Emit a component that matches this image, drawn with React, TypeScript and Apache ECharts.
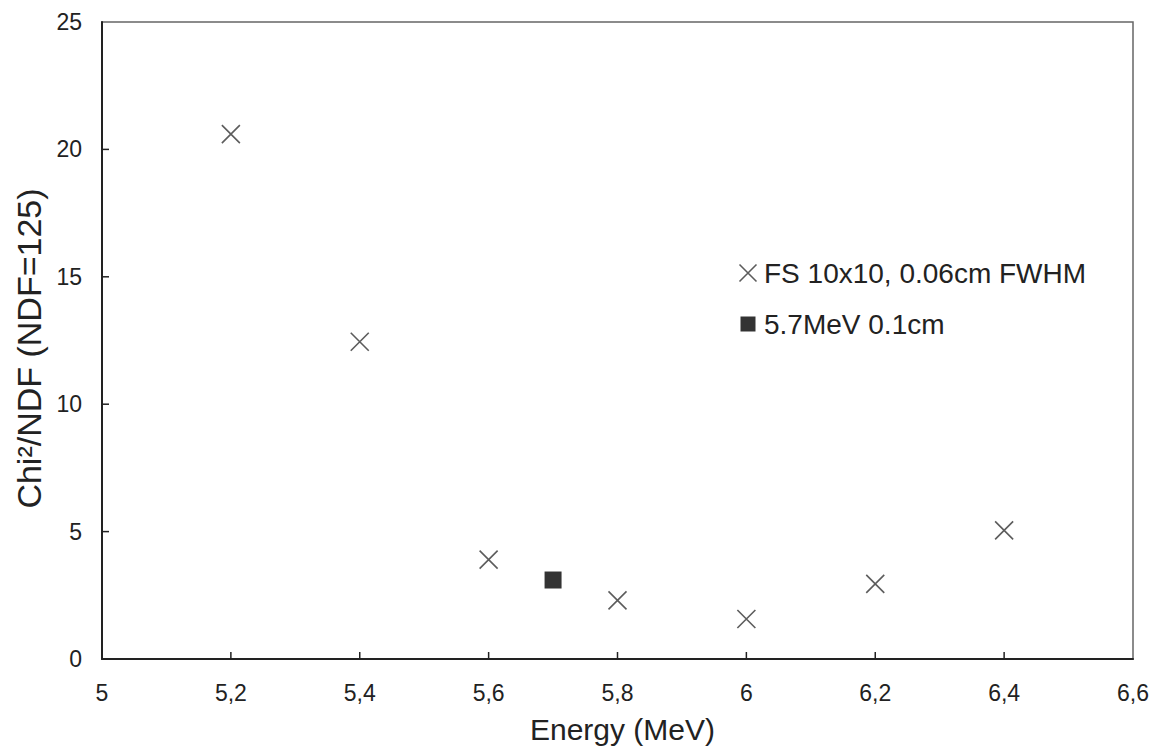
import React, { useEffect, useRef } from "react";
import * as echarts from "echarts";

const energyFS = [5.2, 5.4, 5.6, 5.8, 6.0, 6.2, 6.4];
const chiFS = [20.6, 12.45, 3.9, 2.3, 1.57, 2.95, 5.05];
const energyRef = [5.7];
const chiRef = [3.1];
const seriesNames = ["FS 10x10, 0.06cm FWHM", "5.7MeV 0.1cm"];
const xTicks = [5.2, 5.4, 5.6, 5.8, 6.0, 6.2, 6.4];
const yTicks = [5, 10, 15, 20];

const CROSS = "path://M0,0L10,10M10,0L0,10";
const SQUARE_ICON = "path://M0,0M20,17M2.5,1h15v15h-15z";

export default function App() {
  const ref = useRef<HTMLDivElement>(null);
  useEffect(() => {
    if (!ref.current) return;
    const chart = echarts.init(ref.current, null, { renderer: "svg" });
    const font = "'Liberation Sans', Arial, sans-serif";
    const fmt = (v: number) => String(Math.round(v * 10) / 10).replace(".", ",");
    const tickStyle = { stroke: "#222", lineWidth: 1.5 };
    chart.setOption({
      animation: false,
      backgroundColor: "#ffffff",
      textStyle: { fontFamily: font },
      grid: {
        left: 102,
        right: 23,
        top: 22,
        bottom: 94,
        containLabel: false,
        outerBoundsMode: "none",
        show: true,
        borderColor: "#666",
        borderWidth: 1.5,
        backgroundColor: "transparent",
      },
      legend: {
        orient: "vertical",
        left: 738,
        top: 259,
        padding: 0,
        itemWidth: 20,
        itemHeight: 17,
        itemGap: 23,
        textStyle: { fontSize: 28, color: "#222", fontFamily: font, padding: [0, 0, 0, 1] },
        data: [
          { name: seriesNames[0], icon: CROSS, itemStyle: { color: "transparent", borderColor: "#333", borderWidth: 1.6 } },
          { name: seriesNames[1], icon: SQUARE_ICON, itemStyle: { color: "#000", borderWidth: 0 } },
        ],
      },
      xAxis: {
        type: "value",
        min: 5,
        max: 6.6,
        interval: 0.2,
        name: "Energy (MeV)",
        nameLocation: "middle",
        nameGap: 55,
        nameTextStyle: { fontSize: 30, color: "#222", fontFamily: font, padding: [0, 0, 0, 10] },
        axisLine: { show: true, onZero: false, lineStyle: { color: "#222", width: 2 } },
        axisTick: { show: false },
        axisLabel: { fontSize: 23, color: "#222", margin: 22, formatter: fmt, fontFamily: font },
        splitLine: { show: false },
      },
      yAxis: {
        type: "value",
        min: 0,
        max: 25,
        interval: 5,
        name: "Chi²/NDF (NDF=125)",
        nameLocation: "middle",
        nameGap: 56,
        nameTextStyle: { fontSize: 34, color: "#222", fontFamily: font, padding: [0, 16, 0, 0] },
        axisLine: { show: true, lineStyle: { color: "#222", width: 2 } },
        axisTick: { show: false },
        axisLabel: { fontSize: 23, color: "#222", margin: 20, fontFamily: font },
        splitLine: { show: false },
      },
      series: [
        {
          name: seriesNames[0],
          type: "scatter",
          symbol: CROSS,
          symbolSize: 18,
          itemStyle: { color: "transparent", borderColor: "#333", borderWidth: 1.6 },
          data: energyFS.map((x, i) => [x, chiFS[i]]),
        },
        {
          name: seriesNames[1],
          type: "scatter",
          symbol: "rect",
          symbolSize: 17,
          itemStyle: { color: "#000" },
          data: energyRef.map((x, i) => [x, chiRef[i]]),
        },
        {
          name: "xTicks",
          type: "custom",
          silent: true,
          clip: false,
          z: 5,
          data: xTicks.map((v) => [v, 0]),
          renderItem: (params: any, api: any) => {
            const p = api.coord([api.value(0), 0]);
            return { type: "line", shape: { x1: p[0], y1: p[1], x2: p[0], y2: p[1] - 7 }, style: tickStyle };
          },
        },
        {
          name: "yTicks",
          type: "custom",
          silent: true,
          clip: false,
          z: 5,
          data: yTicks.map((v) => [5, v]),
          renderItem: (params: any, api: any) => {
            const p = api.coord([5, api.value(1)]);
            return { type: "line", shape: { x1: p[0], y1: p[1], x2: p[0] + 7, y2: p[1] }, style: tickStyle };
          },
        },
      ],
    });
    return () => chart.dispose();
  }, []);
  return (
    <div
      ref={ref}
      style={{ position: "fixed", left: 0, top: 0, width: 1156, height: 753, background: "#fff" }}
    />
  );
}
